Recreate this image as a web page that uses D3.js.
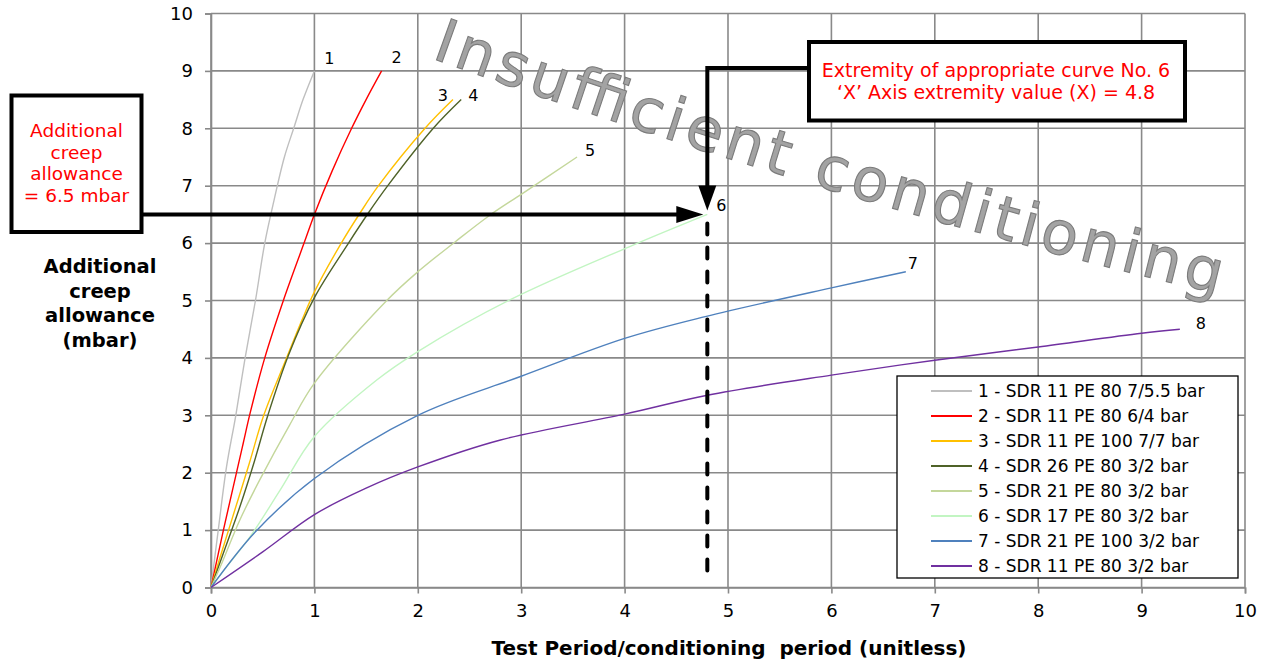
<!DOCTYPE html>
<html>
<head>
<meta charset="utf-8">
<script src="https://cdn.jsdelivr.net/npm/d3@7"></script>
<style>
  html, body { margin: 0; padding: 0; background: #ffffff; }
  svg { display: block; font-family: "DejaVu Sans", Verdana, sans-serif; }
</style>
</head>
<body>
<svg id="chart" width="1271" height="662"></svg>
<script>
// ---- data -------------------------------------------------------------
const seriesNames = [
  "1 - SDR 11 PE 80 7/5.5 bar",
  "2 - SDR 11 PE 80 6/4 bar",
  "3 - SDR 11 PE 100 7/7 bar",
  "4 - SDR 26 PE 80 3/2 bar",
  "5 - SDR 21 PE 80 3/2 bar",
  "6 - SDR 17 PE 80 3/2 bar",
  "7 - SDR 21 PE 100 3/2 bar",
  "8 - SDR 11 PE 80 3/2 bar"
];
const curveLabels = ["1", "2", "3", "4", "5", "6", "7", "8"];

// [test period / conditioning period, additional creep allowance (mbar)]
const curve1 = [[0,0],[0.07,1.0],[0.15,2.1],[0.24,3.0],[0.33,4.0],[0.43,5.0],[0.52,6.0],[0.61,6.75],[0.71,7.5],[0.80,8.0],[0.89,8.5],[1.0,9.0]];
const curve2 = [[0,0],[0.12,1.0],[0.23,1.87],[0.31,2.5],[0.38,3.05],[0.52,4.0],[0.70,5.0],[0.90,6.0],[1.0,6.5],[1.17,7.25],[1.36,8.0],[1.5,8.5],[1.65,9.0]];
const curve3 = [[0,0],[0.09,0.54],[0.22,1.29],[0.37,2.16],[0.51,3.0],[0.72,3.95],[0.88,4.66],[1.0,5.15],[1.26,6.0],[1.44,6.52],[1.62,7.0],[2.07,8.0],[2.34,8.5]];
const curve4 = [[0,0],[0.12,0.6],[0.28,1.41],[0.42,2.2],[0.55,3.0],[0.75,4.05],[1.0,5.05],[1.33,6.0],[1.52,6.52],[1.71,7.0],[2.15,8.0],[2.42,8.5]];
const curve5 = [[0,0],[0.09,0.36],[0.28,1.18],[0.47,1.87],[0.76,2.83],[1.0,3.56],[1.7,5.0],[2.0,5.5],[2.36,6.02],[2.70,6.49],[3.0,6.85],[3.54,7.5]];
const curve6 = [[0,0],[0.15,0.36],[0.38,0.89],[0.67,1.70],[1.0,2.63],[1.6,3.61],[2.0,4.11],[2.89,5.01],[4.05,5.94],[4.8,6.5]];
const curve7 = [[0,0],[0.43,0.97],[1.0,1.9],[2.0,3.0],[3.0,3.68],[4.0,4.34],[4.78,4.72],[6.0,5.22],[6.72,5.5]];
const curve8 = [[0,0],[0.5,0.62],[1.0,1.27],[1.5,1.73],[2.0,2.1],[2.8,2.57],[4.0,3.02],[4.8,3.35],[6.0,3.70],[7.0,3.96],[8.0,4.19],[9.0,4.43],[9.37,4.5]];
const curves = [curve1, curve2, curve3, curve4, curve5, curve6, curve7, curve8];

const xTicks = [0, 1, 2, 3, 4, 5, 6, 7, 8, 9, 10];
const yTicks = [0, 1, 2, 3, 4, 5, 6, 7, 8, 9, 10];

// worked example: curve No. 6 ends at X = 4.8, allowance 6.5 mbar
const extremityX = 4.8;
const creepAllowance = 6.5;

// ---- styling ---------------------------------------------------------
const seriesColors = ["#BFBFBF", "#FF0000", "#FFC000", "#4F6228", "#C4D79B", "#C2F5C2", "#4F81BD", "#7030A0"];
const labelOffsets = [[15,-13],[15,-14],[-10,-4],[12,-4],[13,-7],[14,-9],[7,-9],[21,-6]];
const gridColor = "#898989";

const svg = d3.select("#chart");
svg.append("rect").attr("width", 1271).attr("height", 662).attr("fill", "#fff");

const x = d3.scaleLinear().domain([0, 10]).range([211, 1245]);
const y = d3.scaleLinear().domain([0, 10]).range([587.5, 13.5]);

// gridlines
const grid = svg.append("g");
grid.selectAll("line.v").data(xTicks).join("line")
  .attr("x1", d => x(d)).attr("x2", d => x(d))
  .attr("y1", y(0)).attr("y2", y(10))
  .attr("stroke", gridColor).attr("stroke-width", 1.6);
grid.selectAll("line.h").data(yTicks).join("line")
  .attr("x1", x(0)).attr("x2", x(10))
  .attr("y1", d => y(d)).attr("y2", d => y(d))
  .attr("stroke", gridColor).attr("stroke-width", 1.6);

// axes
const xAxis = svg.append("g").attr("transform", `translate(0,${y(0)})`)
  .call(d3.axisBottom(x).tickValues(xTicks).tickSize(6).tickPadding(11).tickFormat(d3.format("d")));
const yAxis = svg.append("g").attr("transform", `translate(${x(0)},0)`)
  .call(d3.axisLeft(y).tickValues(yTicks).tickSize(6).tickPadding(12).tickFormat(d3.format("d")));
[xAxis, yAxis].forEach(g => {
  g.select(".domain").attr("stroke", gridColor).attr("stroke-width", 1.6);
  g.selectAll(".tick line").attr("stroke", gridColor).attr("stroke-width", 1.6);
  g.selectAll(".tick text").attr("fill", "#000")
    .style("font-family", '"DejaVu Sans", Verdana, sans-serif').style("font-size", "18px");
});

// curved watermark text
const defs = svg.append("defs");
defs.append("path").attr("id", "arcPath").attr("d", "M431,58 Q842,206 1242,300");
const wm = svg.append("text")
  .attr("fill", "#a3a3a3").attr("stroke", "#7b7b7b").attr("stroke-width", 1.1)
  .style("font-size", "60px");
wm.append("textPath").attr("href", "#arcPath")
  .attr("textLength", 822).attr("lengthAdjust", "spacing")
  .text("Insufficient conditioning");

// curves
const line = d3.line().x(d => x(d[0])).y(d => y(d[1])).curve(d3.curveCatmullRom.alpha(0.5));
svg.append("g").selectAll("path").data(curves).join("path")
  .attr("d", line).attr("fill", "none")
  .attr("stroke", (d, i) => seriesColors[i]).attr("stroke-width", 1.4);

// curve end labels
svg.append("g").selectAll("text").data(curves).join("text")
  .attr("x", (d, i) => x(d[d.length - 1][0]) + labelOffsets[i][0])
  .attr("y", (d, i) => y(d[d.length - 1][1]) + labelOffsets[i][1])
  .attr("text-anchor", "middle").attr("dy", "0.36em")
  .style("font-size", "16px").attr("fill", "#000")
  .text((d, i) => curveLabels[i]);

// axis titles
svg.append("text").attr("x", 729).attr("y", 655).attr("text-anchor", "middle")
  .attr("font-weight", "bold").style("font-size", "20px").style("white-space", "pre")
  .attr("xml:space", "preserve")
  .text("Test Period/conditioning  period (unitless)");
const yTitle = ["Additional", "creep", "allowance", "(mbar)"];
svg.append("g").selectAll("text").data(yTitle).join("text")
  .attr("x", 100).attr("y", (d, i) => 273 + i * 24.5)
  .attr("text-anchor", "middle").attr("font-weight", "bold").style("font-size", "19.5px")
  .text(d => d);

// legend
const legend = svg.append("g");
legend.append("rect").attr("x", 897).attr("y", 376).attr("width", 341).attr("height", 202)
  .attr("fill", "#fff").attr("stroke", "#000").attr("stroke-width", 1.3);
const rows = legend.selectAll("g.row").data(seriesNames).join("g")
  .attr("transform", (d, i) => `translate(0,${391 + i * 25})`);
rows.append("line").attr("x1", 931).attr("x2", 972).attr("y1", 0).attr("y2", 0)
  .attr("stroke", (d, i) => seriesColors[i]).attr("stroke-width", 2);
rows.append("text").attr("x", 978).attr("dy", "0.36em").style("font-size", "17px").text(d => d);

// ---- annotations -----------------------------------------------------
const px = x(extremityX), py = y(creepAllowance);
const ann = svg.append("g");

// left box: additional creep allowance
ann.append("rect").attr("x", 11.5).attr("y", 95.5).attr("width", 130).attr("height", 136.5)
  .attr("fill", "#fff").attr("stroke", "#000").attr("stroke-width", 4);
const leftLines = ["Additional", "creep", "allowance", `= ${creepAllowance} mbar`];
ann.selectAll("text.l").data(leftLines).join("text")
  .attr("x", 76.5).attr("y", (d, i) => 137 + i * 21.7)
  .attr("text-anchor", "middle").attr("fill", "#FF0000").style("font-size", "18.5px")
  .text(d => d);

// horizontal arrow to the curve extremity
ann.append("line").attr("x1", 143).attr("x2", px - 28).attr("y1", py).attr("y2", py)
  .attr("stroke", "#000").attr("stroke-width", 4);
ann.append("path")
  .attr("d", `M${px - 31},${py - 8.5} L${px - 4},${py} L${px - 31},${py + 8.5} Z`)
  .attr("fill", "#000");

// right box: extremity of curve
ann.append("rect").attr("x", 809).attr("y", 42).attr("width", 376).attr("height", 78.5)
  .attr("fill", "#fff").attr("stroke", "#000").attr("stroke-width", 4);
const rightLines = ["Extremity of appropriate curve No. 6", `\u2018X\u2019 Axis extremity value (X) = ${extremityX}`];
ann.selectAll("text.r").data(rightLines).join("text")
  .attr("x", 996).attr("y", (d, i) => 77 + i * 21.7)
  .attr("text-anchor", "middle").attr("fill", "#FF0000").style("font-size", "19px")
  .text(d => d);

// connector down to the extremity
ann.append("path").attr("d", `M809,68 H${px} V${py - 26}`)
  .attr("fill", "none").attr("stroke", "#000").attr("stroke-width", 4);
ann.append("path")
  .attr("d", `M${px - 9},${py - 29} L${px},${py - 4} L${px + 9},${py - 29} Z`)
  .attr("fill", "#000");

// dashed drop line to the X axis
ann.append("line").attr("x1", px).attr("x2", px).attr("y1", py + 9).attr("y2", y(0) - 11)
  .attr("stroke", "#000").attr("stroke-width", 4)
  .attr("stroke-dasharray", "11,13").attr("stroke-linecap", "round");
</script>
</body>
</html>
